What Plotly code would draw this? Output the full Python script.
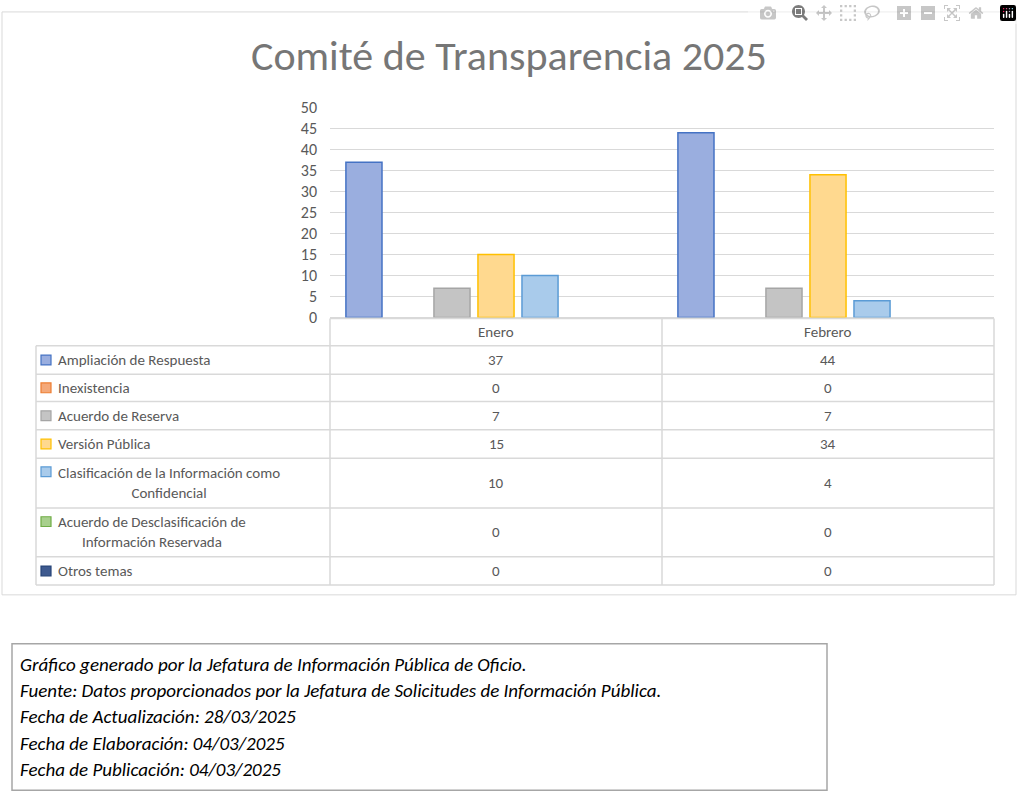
import plotly.graph_objects as go

categories = ["Enero", "Febrero"]
series = ["Ampliación de Respuesta", "Inexistencia", "Acuerdo de Reserva", "Versión Pública",
          "Clasificación de la Información como<br>Confidencial",
          "Acuerdo de Desclasificación de<br>Información Reservada", "Otros temas"]
values = [[37, 44], [0, 0], [7, 7], [15, 34], [10, 4], [0, 0], [0, 0]]
fills = ["#9AAEDF", "#F4A97A", "#C4C4C4", "#FFD98F", "#A9CBEB", "#A8D08D", "#3E5A8F"]
lines = ["#4472C4", "#ED7D31", "#A5A5A5", "#FFC000", "#5B9BD5", "#70AD47", "#264478"]
footnotes = ["Gráfico generado por la Jefatura de Información Pública de Oficio.",
             "Fuente: Datos proporcionados por la Jefatura de Solicitudes de Información Pública.",
             "Fecha de Actualización: 28/03/2025",
             "Fecha de Elaboración: 04/03/2025",
             "Fecha de Publicación: 04/03/2025"]

W, H = 1022, 806
px = lambda x: x / W
py = lambda y: 1 - y / H
FONT = "Calibri, Carlito, Lato, sans-serif"
GRID = "#D9D9D9"
TXT = "#595959"

fig = go.Figure()
for s, v, f, l in zip(series, values, fills, lines):
    fig.add_trace(go.Bar(x=categories, y=v, name=s,
                         marker=dict(color=f, line=dict(color=l, width=[1.5 if val > 0 else 0 for val in v]))))

shapes, ann = [], []
shapes.append(dict(type="rect", xref="paper", yref="paper", x0=px(2), x1=px(1016), y0=py(600), y1=py(3),
                   line=dict(color=GRID, width=1)))
row_edges = [317, 345, 374, 402, 431, 460, 511, 561, 590]
colx = [36, 330, 662, 994]
for i, y in enumerate(row_edges):
    x0 = colx[1] if i == 0 else colx[0]
    shapes.append(dict(type="line", xref="paper", yref="paper", x0=px(x0), x1=px(colx[3]), y0=py(y), y1=py(y),
                       line=dict(color=GRID, width=1.5)))
shapes.append(dict(type="line", xref="paper", yref="paper", x0=px(colx[0]), x1=px(colx[0]), y0=py(345), y1=py(590),
                   line=dict(color=GRID, width=1.5)))
for x in colx[1:]:
    shapes.append(dict(type="line", xref="paper", yref="paper", x0=px(x), x1=px(x), y0=py(317), y1=py(590),
                       line=dict(color=GRID, width=1.5)))
for j, c in enumerate(categories):
    ann.append(dict(x=px((colx[j+1]+colx[j+2])/2), y=py(331), text=c))
for i, s in enumerate(series):
    yc = (row_edges[i+1] + row_edges[i+2]) / 2
    ybox = yc if "<br>" not in s else row_edges[i+1] + 14
    shapes.append(dict(type="rect", xref="paper", yref="paper", x0=px(41), x1=px(51), y0=py(ybox+5), y1=py(ybox-5),
                       fillcolor=fills[i], line=dict(color=lines[i], width=1.2)))
    ann.append(dict(x=px(56), y=py(yc), text=s, xanchor="left", align="center"))
    for j in range(len(categories)):
        ann.append(dict(x=px((colx[j+1]+colx[j+2])/2), y=py(yc), text=str(values[i][j])))
for a in ann:
    a.update(xref="paper", yref="paper", showarrow=False, font=dict(family=FONT, size=15, color=TXT))
    a.setdefault("xanchor", "center")
    a.setdefault("yanchor", "middle")
ann.append(dict(xref="paper", yref="paper", x=px(509), y=py(48), text="Comité de Transparencia 2025", showarrow=False,
                font=dict(family=FONT, size=42, color="#767676"), xanchor="center", yanchor="middle"))
shapes.append(dict(type="rect", xref="paper", yref="paper", x0=px(12), x1=px(827), y0=py(800), y1=py(650),
                   line=dict(color="#A6A6A6", width=1.5)))
for k, t in enumerate(footnotes):
    ann.append(dict(xref="paper", yref="paper", x=px(18), y=py(671 + k*27), text=f"<i>{t}</i>", showarrow=False,
                    font=dict(family=FONT, size=19, color="#000000"), xanchor="left", yanchor="middle"))

fig.update_layout(
    width=W, height=H, margin=dict(l=0, r=0, t=0, b=0), paper_bgcolor="white", plot_bgcolor="white",
    showlegend=False, barmode="group", bargap=0.072, bargroupgap=0.18,
    shapes=shapes, annotations=ann,
    xaxis=dict(domain=[px(330), px(994)], anchor="y", showticklabels=False, showline=False, ticks=""),
    yaxis=dict(domain=[py(316), py(101)], range=[0, 50], dtick=5, gridcolor=GRID, gridwidth=1.3,
               zeroline=True, zerolinecolor=GRID, zerolinewidth=1.3,
               tickfont=dict(family=FONT, size=16, color=TXT), ticks="", ticklabelstandoff=12),
)
fig.write_html("out.html")
with open("out.html", encoding="utf-8") as fh:
    html = fh.read()
html = html.replace("<head>", "<head><style>html,body{margin:0;padding:0;overflow:hidden;}</style>", 1)
with open("out.html", "w", encoding="utf-8") as fh:
    fh.write(html)
